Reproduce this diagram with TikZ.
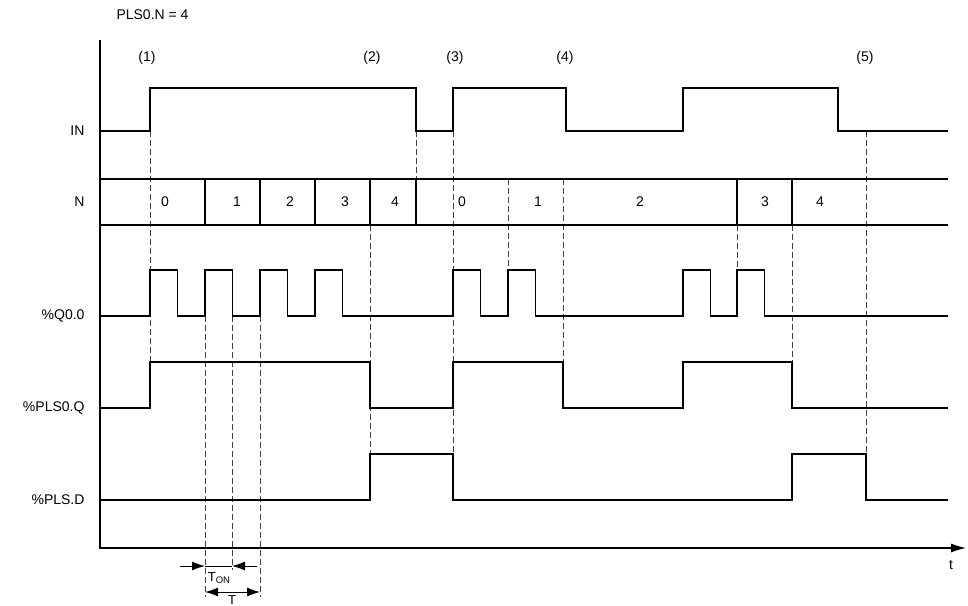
\documentclass[tikz,border=0pt]{standalone}
\usepackage{fontspec}
\setmainfont{Liberation Sans}
\usetikzlibrary{arrows.meta}

\begin{document}
\begin{tikzpicture}[x=1pt,y=-1pt,
    sig/.style={line width=1.6pt},
    guide/.style={dash pattern=on 6pt off 3pt, line width=0.8pt, black!75},
    lbl/.style={anchor=east, font=\fontsize{14}{16}\selectfont},
    txt/.style={font=\fontsize{14}{16}\selectfont},
    dim/.style={line width=1pt, -{Latex[length=13pt,width=9pt]}}]
  \useasboundingbox (0,0) rectangle (968,605);
  % \draw[help lines] (0,0) grid[step=50] (968,605);

  \node[txt, anchor=west] (title) at (113,15) {PLS0.N = 4};
  \node[txt] (e1) at (147,58) {(1)};
  \node[txt] (e2) at (372,58) {(2)};
  \node[txt] (e3) at (455,58) {(3)};
  \node[txt] (e4) at (565,58) {(4)};
  \node[txt] (e5) at (865,58) {(5)};

  \node[lbl] (in) at (88,131) {IN};
  \node[lbl] (n) at (88,202) {N};
  \node[lbl] (q) at (88,316) {\%Q0.0};
  \node[lbl] (plsq) at (88,408) {\%PLS0.Q};
  \node[lbl] (plsd) at (88,500) {\%PLS.D};

  % guide lines
  \foreach \x/\a/\b in {150/131/362, 205/316/597, 232/316/570, 260/316/597,
      370/225/454, 416/131/179, 453/131/454, 508/179/270, 563/179/362,
      737/225/270, 792/225/362, 866/131/454}
    \draw[guide] (\x,\a) -- (\x,\b);

  % IN
  \draw[sig] (100,131) -- (150,131) -- (150,88) -- (416,88) -- (416,131)
    -- (453,131) -- (453,88) -- (566,88) -- (566,131) -- (683,131)
    -- (683,88) -- (838,88) -- (838,131) -- (948,131);

  % N
  \draw[sig] (100,179) -- (948,179);
  \draw[sig] (100,225) -- (948,225);
  \foreach \x in {205,260,315,370,416,737,792}
    \draw[sig] (\x,179) -- (\x,225);
  \foreach \x/\v [count=\i] in {165/0, 237/1, 290/2, 345/3, 395/4,
      462/0, 538/1, 640/2, 765/3, 820/4}
    \node[txt] (cell\i) at (\x,202) {\v};

  % %Q0.0
  \draw[sig] (100,316) foreach \r in {150,205,260,315,453,508,683,737}
    { -- (\r,316) -- (\r,270) -- ({\r+27.5},270) -- ({\r+27.5},316) }
    -- (948,316);

  % %PLS0.Q
  \draw[sig] (100,408) -- (150,408) -- (150,362) -- (370,362) -- (370,408)
    -- (453,408) -- (453,362) -- (563,362) -- (563,408) -- (683,408)
    -- (683,362) -- (792,362) -- (792,408) -- (948,408);

  % %PLS.D
  \draw[sig] (100,500) -- (370,500) -- (370,454) -- (453,454) -- (453,500)
    -- (792,500) -- (792,454) -- (866,454) -- (866,500) -- (948,500);

  % axes
  \coordinate (top) at (100,40);
  \coordinate (origin) at (100,548);
  \coordinate (tend) at (966,548);
  \draw[line width=1.2pt, -{Latex[length=15pt,width=9pt]}] (top) -- (origin) -- (tend);
  \node[txt] (t) at (951,565) {t};

  % T_ON and T
  \coordinate (ton-a) at (180,566);
  \coordinate (ton-b) at (205,566);
  \coordinate (ton-c) at (232,566);
  \coordinate (ton-d) at (257,566);
  \draw[dim] (ton-a) -- (ton-b);
  \draw[line width=1pt] (ton-b) -- (ton-c);
  \draw[dim] (ton-d) -- (ton-c);
  \node[txt, font=\fontsize{13}{15}\selectfont] (ton) at (219,578) {T\raisebox{-0.35ex}{\fontsize{9.5}{10}\selectfont ON}};
  \coordinate (per-a) at (205,592);
  \coordinate (per-b) at (260,592);
  \draw[line width=1pt, {Latex[length=13pt,width=9pt]}-{Latex[length=13pt,width=9pt]}] (per-a) -- (per-b);
  \node[txt, anchor=north, inner sep=0pt, font=\fontsize{13}{15}\selectfont] (per) at (232,595) {T};
\end{tikzpicture}
\end{document}
